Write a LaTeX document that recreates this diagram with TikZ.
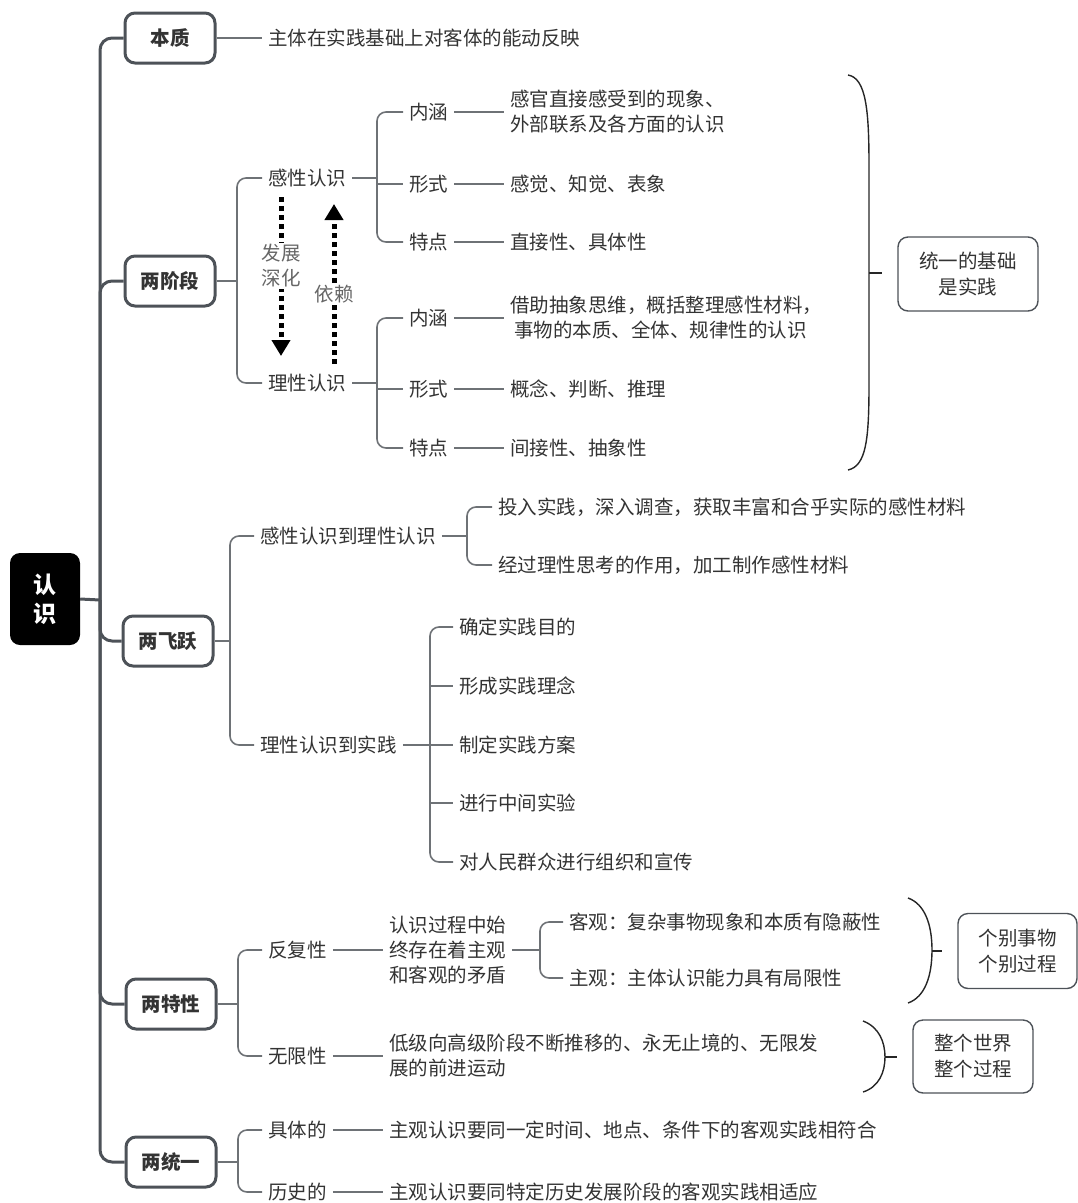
\documentclass[tikz,border=0pt]{standalone}
\usepackage{fontspec}
\setmainfont{Noto Sans CJK SC}
\usetikzlibrary{arrows.meta,calc}
\definecolor{trunkc}{HTML}{4D5258}
\definecolor{connc}{HTML}{6E7276}
\definecolor{txtc}{HTML}{333333}
\definecolor{softc}{HTML}{666666}
\begin{document}
\begin{tikzpicture}[x=1pt,y=-1pt,
  lone/.style={draw=trunkc, line width=3pt, rounded corners=10pt, fill=white, minimum width=90pt, minimum height=50pt, font=\fontsize{19.5}{24}\selectfont\bfseries, text=txtc, inner sep=0pt},
  lbl/.style={anchor=west, inner xsep=6pt, inner ysep=1pt, text=txtc, font=\fontsize{19.5}{25}\selectfont, align=left},
  conn/.style={draw=connc, line width=1.6pt, rounded corners=9pt},
  tline/.style={draw=trunkc, line width=3pt, rounded corners=12pt},
  rbox/.style={draw=trunkc, line width=1.4pt, rounded corners=10pt, fill=white, text=txtc, font=\fontsize{19.5}{26}\selectfont, align=center, inner sep=0pt},
  bracec/.style={draw=black!85, line width=1.4pt},
  dotarr/.style={line width=5pt, dash pattern=on 5pt off 4pt, -{Triangle[length=16pt,width=18pt]}},
  arrlbl/.style={fill=white, text=softc, font=\fontsize{19.5}{25}\selectfont, align=center, inner sep=1pt},
]
\useasboundingbox (0,0) rectangle (1078,1203);

% root
\node[fill=black, rounded corners=10pt, minimum width=70pt, minimum height=92pt, text=white, font=\fontsize{23}{29}\selectfont\bfseries, align=center, inner sep=0pt] (root) at (45,599) {认\\识};
\coordinate (j0) at (100,600);

% level-1 boxes
\node[lone] (bz) at (170,38) {本质};
\node[lone] (jd) at (170,281) {两阶段};
\node[lone] (fy) at (168,641) {两飞跃};
\node[lone] (tx) at (171,1004) {两特性};
\node[lone] (ty) at (171,1162) {两统一};

\draw[tline] (root.east) -- (j0);
\foreach \n in {bz,jd,fy,tx,ty} { \draw[tline] (j0) |- (\n.west); }

% 本质
\node[lbl] (bzd) at (262,38) {主体在实践基础上对客体的能动反映};
\draw[conn] (bz.east) -- (bzd.west);

% 两阶段
\node[lbl] (gan) at (262,178) {感性认识};
\node[lbl] (li) at (262,383) {理性认识};
\coordinate (jA) at (237,281);
\draw[conn] (jd.east) -- (jA);
\draw[conn] (gan.west) -| (jA |- li.west) -- (li.west);

\node[lbl] (g1) at (403,112) {内涵};
\node[lbl] (g2) at (403,184) {形式};
\node[lbl] (g3) at (403,242) {特点};
\node[lbl] (gd1) at (504,112) {感官直接感受到的现象、\\外部联系及各方面的认识};
\node[lbl] (gd2) at (504,184) {感觉、知觉、表象};
\node[lbl] (gd3) at (504,242) {直接性、具体性};
\coordinate (jG) at (377,178);
\draw[conn] (gan.east) -- (jG);
\draw[conn] (g1.west) -| (jG |- g3.west) -- (g3.west);
\draw[conn] (jG |- g2.west) -- (g2.west);
\draw[conn] (g1.east) -- (gd1.west);
\draw[conn] (g2.east) -- (gd2.west);
\draw[conn] (g3.east) -- (gd3.west);

\node[lbl] (l1) at (403,318) {内涵};
\node[lbl] (l2) at (403,389) {形式};
\node[lbl] (l3) at (403,448) {特点};
\node[lbl] (ld1) at (504,318) {借助抽象思维，概括整理感性材料，\\\hspace{4pt}事物的本质、全体、规律性的认识};
\node[lbl] (ld2) at (504,389) {概念、判断、推理};
\node[lbl] (ld3) at (504,448) {间接性、抽象性};
\coordinate (jL) at (377,383);
\draw[conn] (li.east) -- (jL);
\draw[conn] (l1.west) -| (jL |- l3.west) -- (l3.west);
\draw[conn] (jL |- l2.west) -- (l2.west);
\draw[conn] (l1.east) -- (ld1.west);
\draw[conn] (l2.east) -- (ld2.west);
\draw[conn] (l3.east) -- (ld3.west);

% dotted arrows
\coordinate (a1s) at (281,197);
\coordinate (a1e) at (281,356);
\coordinate (a2s) at (334,364);
\coordinate (a2e) at (334,204);
\draw[dotarr] (a1s) -- (a1e);
\draw[dotarr] (a2s) -- (a2e);
\node[arrlbl] (fz) at (281,266) {发展\\深化};
\node[arrlbl] (yl) at (334,294) {依赖};

% big brace + box
\draw[bracec] (848,75) .. controls (866,78) and (869,110) .. (869,165) -- (869,385) .. controls (869,440) and (866,466) .. (848,470);
\coordinate (bt1) at (869,273);
\node[rbox, minimum width=140pt, minimum height=74pt] (jc) at (968,274) {统一的基础\\是实践};
\draw[bracec] (bt1) -- ++(13,0);

% 两飞跃
\node[lbl] (fy1) at (254,536) {感性认识到理性认识};
\node[lbl] (fy2) at (254,745) {理性认识到实践};
\coordinate (jF) at (230,641);
\draw[conn] (fy.east) -- (jF);
\draw[conn] (fy1.west) -| (jF |- fy2.west) -- (fy2.west);

\node[lbl] (fa1) at (492,507) {投入实践，深入调查，获取丰富和合乎实际的感性材料};
\node[lbl] (fa2) at (492,565) {经过理性思考的作用，加工制作感性材料};
\coordinate (jF1) at (467,536);
\draw[conn] (fy1.east) -- (jF1);
\draw[conn] (fa1.west) -| (jF1 |- fa2.west) -- (fa2.west);

\node[lbl] (fb1) at (453,627) {确定实践目的};
\node[lbl] (fb2) at (453,686) {形成实践理念};
\node[lbl] (fb3) at (453,745) {制定实践方案};
\node[lbl] (fb4) at (453,803) {进行中间实验};
\node[lbl] (fb5) at (453,862) {对人民群众进行组织和宣传};
\coordinate (jF2) at (430,745);
\draw[conn] (fy2.east) -- (jF2);
\draw[conn] (fb1.west) -| (jF2 |- fb5.west) -- (fb5.west);
\draw[conn] (jF2 |- fb2.west) -- (fb2.west);
\draw[conn] (jF2 |- fb3.west) -- (fb3.west);
\draw[conn] (jF2 |- fb4.west) -- (fb4.west);

% 两特性
\node[lbl] (tx1) at (262,950) {反复性};
\node[lbl] (tx2) at (262,1056) {无限性};
\coordinate (jT) at (238,1004);
\draw[conn] (tx.east) -- (jT);
\draw[conn] (tx1.west) -| (jT |- tx2.west) -- (tx2.west);

\node[lbl] (txd1) at (383,950) {认识过程中始\\终存在着主观\\和客观的矛盾};
\draw[conn] (tx1.east) -- (txd1.west);
\node[lbl] (txe1) at (563,922) {客观：复杂事物现象和本质有隐蔽性};
\node[lbl] (txe2) at (563,978) {主观：主体认识能力具有局限性};
\coordinate (jT1) at (540,950);
\draw[conn] (txd1.east) -- (jT1);
\draw[conn] (txe1.west) -| (jT1 |- txe2.west) -- (txe2.west);

\node[lbl] (txd2) at (383,1056) {低级向高级阶段不断推移的、永无止境的、无限发\\展的前进运动};
\draw[conn] (tx2.east) -- (txd2.west);

\draw[bracec] (908,898) .. controls (925,904) and (932,925) .. (932,950) .. controls (932,976) and (925,997) .. (908,1003);
\coordinate (bt2) at (932,951);
\draw[bracec] (bt2) -- ++(10,0);
\node[rbox, minimum width=119pt, minimum height=75pt] (gb) at (1017.5,951) {个别事物\\个别过程};

\draw[bracec] (863,1021) .. controls (879,1027) and (885,1042) .. (885,1057) .. controls (885,1072) and (879,1087) .. (863,1092);
\coordinate (bt3) at (885,1057);
\draw[bracec] (bt3) -- ++(12,0);
\node[rbox, minimum width=120pt, minimum height=73pt] (zg) at (973,1056.5) {整个世界\\整个过程};

% 两统一
\node[lbl] (ty1) at (262,1130) {具体的};
\node[lbl] (ty2) at (262,1192) {历史的};
\coordinate (jU) at (238,1162);
\draw[conn] (ty.east) -- (jU);
\draw[conn] (ty1.west) -| (jU |- ty2.west) -- (ty2.west);
\node[lbl] (tyd1) at (383,1130) {主观认识要同一定时间、地点、条件下的客观实践相符合};
\node[lbl] (tyd2) at (383,1192) {主观认识要同特定历史发展阶段的客观实践相适应};
\draw[conn] (ty1.east) -- (tyd1.west);
\draw[conn] (ty2.east) -- (tyd2.west);
\end{tikzpicture}
\end{document}
